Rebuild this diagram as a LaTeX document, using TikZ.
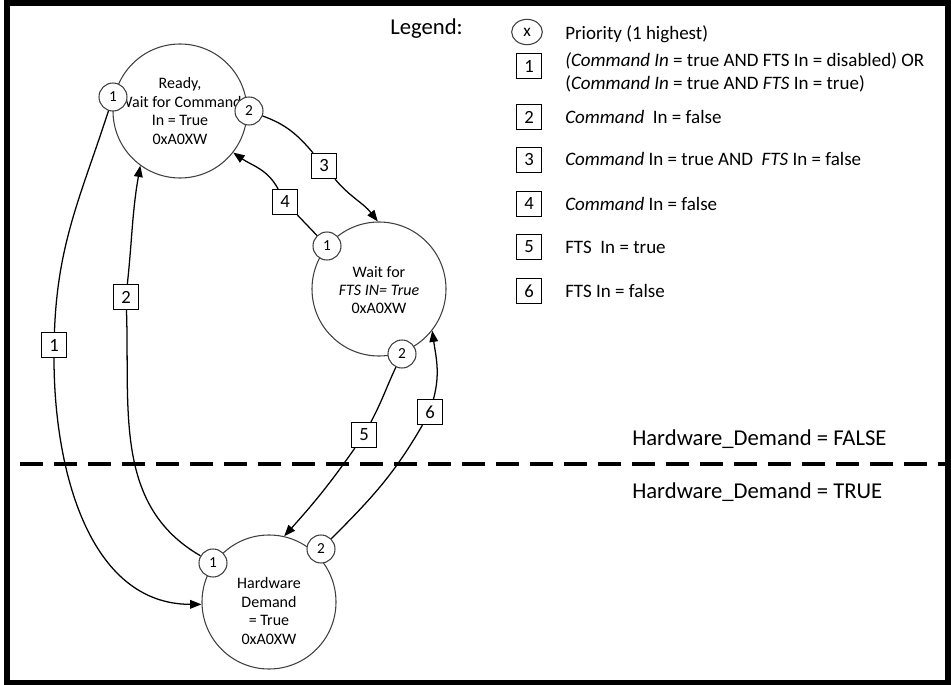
\documentclass[tikz,border=0pt]{standalone}
\usepackage{fontspec}
\setmainfont{Carlito}
\usetikzlibrary{arrows.meta,shapes.geometric}
\begin{document}
\begin{tikzpicture}[x=0.75pt,y=0.75pt,
  state/.style={circle,draw=black!75,line width=0.8pt,minimum size=100.5pt,inner sep=0pt},
  stxt/.style={align=center,inner sep=0pt,font=\fontsize{12}{13.8}\selectfont},
  prio/.style={circle,draw=black!75,line width=0.8pt,fill=white,minimum size=21pt,inner sep=0pt,font=\fontsize{11.5}{13}\selectfont},
  lbl/.style={rectangle,draw=black,line width=0.9pt,fill=white,minimum size=18.75pt,inner sep=0pt,font=\fontsize{14}{16}\selectfont},
  conn/.style={line width=0.95pt},
  arr/.style={conn,-{Triangle[length=8.5pt,width=6.5pt]}},
  legtext/.style={anchor=base west,inner sep=0pt,font=\fontsize{14.25}{17}\selectfont},
  bigtext/.style={anchor=base west,inner sep=0pt,font=\fontsize{17}{20}\selectfont},
  legcirc/.style={ellipse,draw=black!75,line width=0.8pt,minimum width=23pt,minimum height=19pt,inner sep=0pt,font=\fontsize{13}{15}\selectfont},
  dashline/.style={line width=2.5pt,dash pattern=on 17.25pt off 8.25pt}
]
\useasboundingbox (0,0) rectangle (951,-685);
\draw[line width=4.5pt] (7,-3) rectangle (948,-683);

% states
\node[state] (R) at (180,-111) {};
\node[stxt] (Rt) at (180,-111) {Ready,\\Wait for Command\\In = True\\0xA0XW};
\node[state] (F) at (379,-289) {};
\node[stxt] (Ft) at (379,-290) {Wait for\\\textit{FTS IN= True}\\0xA0XW};
\node[state] (H) at (269,-602) {};
\node[stxt] (Ht) at (269,-611) {Hardware\\Demand\\= True\\0xA0XW};

% priority circles
\node[prio] (R1) at (113,-97) {1};
\node[prio] (R2) at (249,-111) {2};
\node[prio] (F1) at (327,-246) {1};
\node[prio] (F2) at (402,-354) {2};
\node[prio] (H1) at (213,-563) {1};
\node[prio] (H2) at (321,-549) {2};

% transition labels
\node[lbl] (B1) at (54,-345) {1};
\node[lbl] (B2) at (126,-297) {2};
\node[lbl] (B3) at (324,-166) {3};
\node[lbl] (B4) at (285,-202) {4};
\node[lbl] (B5) at (364,-435) {5};
\node[lbl] (B6) at (430,-412) {6};

% connectors
\draw[conn] (R1) to[out=-108,in=88] (B1);
\draw[arr] (B1) to[out=-90,in=180] (H.182);
\draw[conn] (H1) to[out=150,in=-88] (B2);
\draw[arr] (B2) to[out=84,in=-100] (R.234);
\draw[conn] (R2) to[out=-20,in=130] (B3);
\draw[arr] (B3) to[out=-50,in=128] (F.91);
\draw[conn] (F1) to (B4);
\draw[arr] (B4) to[out=118,in=-35] (R.-38);
\draw[conn] (F2) to[out=-115,in=62] (B5);
\draw[arr] (B5) to[out=-125,in=48] (H.77);
\draw[conn] (H2) to[out=45,in=-120] (B6);
\draw[arr] (B6) to[out=75,in=-82] (F.-38);

% divider
\coordinate (dl) at (20,-464);
\coordinate (dr) at (946,-464);
\draw[dashline] (dl) -- (dr);
\node[bigtext] (hf) at (632,-445) {Hardware\_Demand = FALSE};
\node[bigtext] (ht) at (632,-498) {Hardware\_Demand = TRUE};

% legend
\node[bigtext] (lg) at (390,-35) {Legend:};
\node[legcirc] (Lx) at (527,-32) {x};
\node[legtext] (L0) at (565,-40) {Priority (1 highest)};
\node[lbl] (L1) at (529,-66) {1};
\node[legtext] (L1a) at (565,-67) {\textit{(Command In} = true AND FTS In = disabled) OR};
\node[legtext] (L1b) at (565,-90) {(\textit{Command In} = true AND \textit{FTS} In = true)};
\node[lbl] (L2) at (529,-117) {2};
\node[legtext] (L2t) at (565,-123) {\textit{Command}\ \ In = false};
\node[lbl] (L3) at (529,-160) {3};
\node[legtext] (L3t) at (565,-166) {\textit{Command} In = true AND\ \ \textit{FTS} In = false};
\node[lbl] (L4) at (529,-204) {4};
\node[legtext] (L4t) at (565,-210) {\textit{Command} In = false};
\node[lbl] (L5) at (529,-247) {5};
\node[legtext] (L5t) at (565,-253) {FTS\ \ In = true};
\node[lbl] (L6) at (529,-291) {6};
\node[legtext] (L6t) at (565,-297) {FTS In = false};
\end{tikzpicture}
\end{document}
